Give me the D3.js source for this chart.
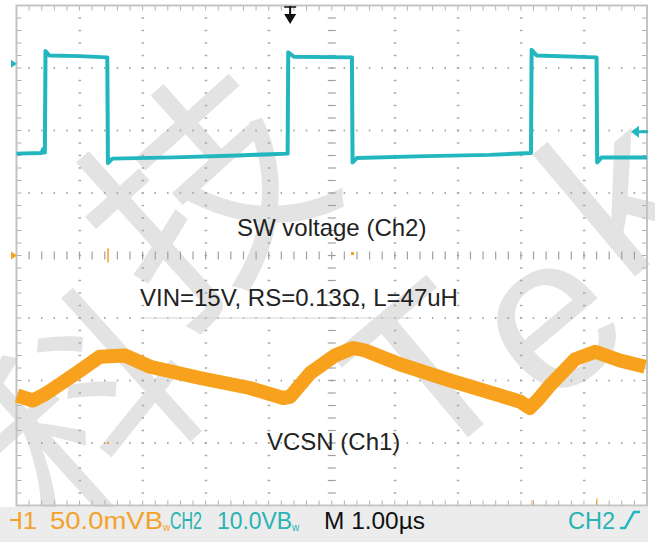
<!DOCTYPE html>
<html>
<head>
<meta charset="utf-8">
<script src="https://cdn.jsdelivr.net/npm/d3@7/dist/d3.min.js"></script>
<style>
  body { margin: 0; background: #fff; }
  svg { display: block; }
</style>
</head>
<body>
<div id="chart"></div>
<script>
// Ch2 (SW voltage), time in us, volts
const ch2Time  = [0, 0.40, 0.42, 0.44, 0.45, 0.46, 0.52, 1.0, 1.44, 1.45, 1.52, 2.5, 3.5, 4.30, 4.31, 4.40, 5.32, 5.33, 5.40, 6.5, 7.5, 8.16, 8.17, 8.25, 9.20, 9.21, 9.28, 10];
const ch2Volts = [0.6, 0.7, 1.3, 0.8, 0.8, 17.0, 16.3, 16.2, 16.0, -0.9, -0.2, 0.0, 0.3, 0.6, 16.8, 16.1, 16.0, -0.8, -0.1, 0.2, 0.4, 0.7, 17.2, 16.3, 16.0, -0.8, 0.0, 0.0];

// Ch1 (VCSN), time in us, millivolts
const ch1Time = [0.01, 0.26, 0.45, 0.69, 1.01, 1.32, 1.72, 2.12, 2.91, 3.70, 4.23, 4.34, 4.66, 5.05, 5.34, 5.53, 6.08, 6.88, 7.67, 7.99, 8.14, 8.26, 8.46, 8.86, 9.18, 9.57, 9.97];
const ch1mV   = [-112, -116, -111, -103, -92, -81, -80, -89, -98, -106, -114, -113, -94, -80, -74, -76, -87, -100, -112, -117, -122, -116, -104, -83, -77, -84, -89];

// scope settings
const ch1PerDiv = 50;   // mV/div
const ch2PerDiv = 10;   // V/div
const ch1Offset = 0;    // div
const ch2Offset = 1.57; // div
const trigTime = 4.34;  // us
const trigLevel = 1.98; // div
const ch2Marker = 3.07; // div

const annotations = ["SW voltage (Ch2)", "VIN=15V, RS=0.13\u03a9, L=47uH", "VCSN (Ch1)"];
const statusItems = [
  { text: "CH1", color: "#f2a22a" },
  { text: "50.0mVB", color: "#f2a22a", sub: "w" },
  { text: "CH2", color: "#27b3b3" },
  { text: "10.0VB", color: "#27b3b3", sub: "w" },
  { text: "M 1.00\u00b5s", color: "#111" },
  { text: "CH2", color: "#27b3b3" }
];

const W = 655, H = 542;
const cyan = "#22b7bf", orange = "#f7a11c";

const svg = d3.select("#chart").append("svg")
  .attr("width", W).attr("height", H);

const x = d3.scaleLinear().domain([0, 10]).range([16.5, 647]);
const y = d3.scaleLinear().domain([-4, 4]).range([505.5, 5.5]);

// watermark
const wm = svg.append("g").attr("fill", "#e3e3e3");
[["\u79d1", 88, 410, 210], ["\u6280", 205, 195, 230]].forEach(([ch, cx, cy, fs]) => {
  wm.append("text").text(ch)
    .attr("transform", `translate(${cx},${cy}) rotate(-42)`)
    .attr("text-anchor", "middle").attr("dy", "0.36em")
    .style("font-family", "'Noto Sans CJK SC'")
    .style("font-size", fs + "px");
});
[["T", 425, 370], ["e", 542, 312], ["k", 615, 190]].forEach(([ch, cx, cy]) => {
  wm.append("text").text(ch)
    .attr("transform", `translate(${cx},${cy}) rotate(-40)`)
    .attr("text-anchor", "middle").attr("dy", "0.36em")
    .style("font-family", "'Liberation Sans'")
    .style("font-size", "220px");
});

// status bar
svg.append("rect").attr("x", 0).attr("y", 507).attr("width", 648).attr("height", 35).attr("fill", "#ececec");

// graticule
const grid = svg.append("g");
const minorX = d3.range(1, 50).map(i => i / 5);
const minorY = d3.range(-19, 20).map(i => i / 5);

for (let i = 1; i < 10; i++) {
  if (i === 5) continue;
  grid.selectAll(null).data(minorY).enter().append("rect")
    .attr("x", x(i) - 1).attr("y", d => y(d) - 0.75)
    .attr("width", 2.5).attr("height", 1.5).attr("fill", "#a9a9a9");
}
for (let j = -3; j <= 3; j++) {
  if (j === 0) continue;
  grid.selectAll(null).data(minorX).enter().append("rect")
    .attr("x", d => x(d) - 0.75).attr("y", y(j) - 1)
    .attr("width", 1.5).attr("height", 2).attr("fill", "#a9a9a9");
}
// center axes with ticks
grid.selectAll(null).data(minorX).enter().append("line")
  .attr("x1", d => x(d)).attr("x2", d => x(d))
  .attr("y1", y(0) - 4).attr("y2", y(0) + 4)
  .attr("stroke", "#a0a0a0").attr("stroke-width", 1.2);
grid.selectAll(null).data(minorY).enter().append("line")
  .attr("y1", d => y(d)).attr("y2", d => y(d))
  .attr("x1", x(5) - 4).attr("x2", x(5) + 4)
  .attr("stroke", "#a0a0a0").attr("stroke-width", 1.2);
// border ticks
grid.selectAll(null).data(minorX).enter().append("line")
  .attr("x1", d => x(d)).attr("x2", d => x(d))
  .attr("y1", y(4)).attr("y2", y(4) + 5)
  .attr("stroke", "#b0b0b0");
grid.selectAll(null).data(minorX).enter().append("line")
  .attr("x1", d => x(d)).attr("x2", d => x(d))
  .attr("y1", y(-4)).attr("y2", y(-4) - 5)
  .attr("stroke", "#b0b0b0");
grid.selectAll(null).data(minorY).enter().append("line")
  .attr("y1", d => y(d)).attr("y2", d => y(d))
  .attr("x1", x(0)).attr("x2", x(0) + 5)
  .attr("stroke", "#b0b0b0");
grid.selectAll(null).data(minorY).enter().append("line")
  .attr("y1", d => y(d)).attr("y2", d => y(d))
  .attr("x1", x(10)).attr("x2", x(10) - 5)
  .attr("stroke", "#b0b0b0");
grid.append("rect")
  .attr("x", x(0)).attr("y", y(4))
  .attr("width", x(10) - x(0)).attr("height", y(-4) - y(4))
  .attr("fill", "none").attr("stroke", "#c4c4c4").attr("stroke-width", 2);

// line under the parameter label
svg.append("line").attr("x1", 140).attr("x2", 412)
  .attr("y1", y(-1)).attr("y2", y(-1))
  .attr("stroke", "#d6d6d6").attr("stroke-width", 1.2);

// traces
const ch2Line = d3.line()
  .x((d, i) => x(ch2Time[i]))
  .y(d => y(d / ch2PerDiv + ch2Offset));
svg.append("path").datum(ch2Volts)
  .attr("d", ch2Line)
  .attr("fill", "none").attr("stroke", cyan)
  .attr("stroke-width", 4).attr("stroke-linejoin", "round");

const ch1Line = d3.line()
  .x((d, i) => x(ch1Time[i]))
  .y(d => y(d / ch1PerDiv + ch1Offset));
svg.append("path").datum(ch1mV)
  .attr("d", ch1Line)
  .attr("fill", "none").attr("stroke", orange)
  .attr("stroke-width", 14).attr("stroke-linejoin", "round");

// small orange cursor marks
svg.append("line").attr("x1", 108).attr("x2", 108).attr("y1", y(0) - 7).attr("y2", y(0) + 7)
  .attr("stroke", orange).attr("stroke-width", 1.5);
svg.append("rect").attr("x", 351).attr("y", 252).attr("width", 3).attr("height", 3).attr("fill", orange);
svg.append("rect").attr("x", 107).attr("y", y(-3) - 1).attr("width", 2).attr("height", 2).attr("fill", orange);
svg.append("line").attr("x1", 532).attr("x2", 532).attr("y1", 500).attr("y2", 505).attr("stroke", orange);
svg.append("line").attr("x1", 597).attr("x2", 597).attr("y1", 498).attr("y2", 505).attr("stroke", orange);

// markers
const tx = x(trigTime);
svg.append("line").attr("x1", tx).attr("x2", tx).attr("y1", 6).attr("y2", 18)
  .attr("stroke", "#111").attr("stroke-width", 2);
svg.append("path").attr("d", `M${tx - 6},14 L${tx + 6},14 L${tx},24 Z`).attr("fill", "#111");
svg.append("line").attr("x1", tx - 6).attr("x2", tx + 6).attr("y1", 7).attr("y2", 7)
  .attr("stroke", "#111").attr("stroke-width", 1.5);

const m2 = y(ch2Marker);
svg.append("path").attr("d", `M11,${m2 - 4} L17,${m2} L11,${m2 + 4} Z`).attr("fill", cyan);
const m1 = y(ch1Offset);
svg.append("path").attr("d", `M11,${m1 - 4} L17,${m1} L11,${m1 + 4} Z`).attr("fill", orange);
const tl = y(trigLevel);
svg.append("path").attr("d", `M631,${tl} L639,${tl - 6} L639,${tl + 6} Z`).attr("fill", cyan);
svg.append("line").attr("x1", 636).attr("x2", 648).attr("y1", tl).attr("y2", tl)
  .attr("stroke", cyan).attr("stroke-width", 3);

// annotations
const annoPos = [[237, 236], [140, 306], [267, 450]];
svg.selectAll(".anno").data(annotations).enter().append("text")
  .attr("class", "anno")
  .attr("x", (d, i) => annoPos[i][0]).attr("y", (d, i) => annoPos[i][1])
  .text(d => d)
  .style("font-family", "'Liberation Sans', Arial, sans-serif")
  .style("font-size", "24px").style("fill", "#222");

// status bar text
svg.append("clipPath").attr("id", "barclip")
  .append("rect").attr("x", 10).attr("y", 507).attr("width", 640).attr("height", 35);
const statusPos = [[-14, 51], [50, 113], [170, 32], [217, 75], [324, 101], [568, 47]];
const sb = svg.append("g")
  .attr("clip-path", "url(#barclip)")
  .style("font-family", "'Liberation Sans Narrow', 'Liberation Sans', sans-serif")
  .style("font-size", "23px");
statusItems.forEach((d, i) => {
  const t = sb.append("text")
    .attr("x", statusPos[i][0]).attr("y", 529)
    .style("fill", d.color);
  t.append("tspan")
    .attr("textLength", statusPos[i][1]).attr("lengthAdjust", "spacingAndGlyphs")
    .text(d.text);
  if (d.sub) {
    t.append("tspan")
      .attr("dy", 2).style("font-size", "10px").text(d.sub);
  }
});
// rising edge trigger icon
svg.append("path").attr("d", "M620,528 L625,528 L634,512 L640,512")
  .attr("fill", "none").attr("stroke", cyan).attr("stroke-width", 2.5);
</script>
</body>
</html>
